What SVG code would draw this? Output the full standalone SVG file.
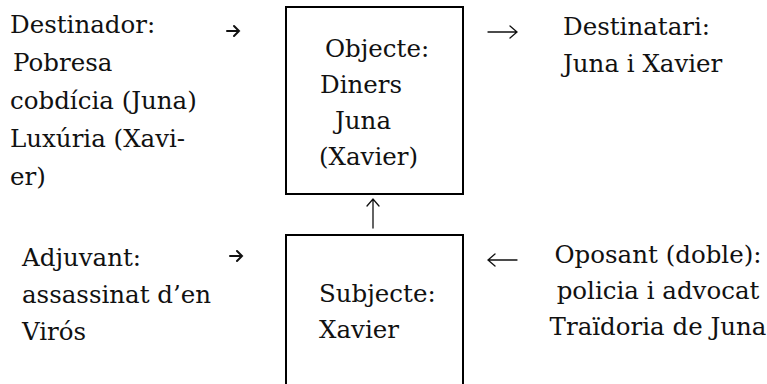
<svg xmlns="http://www.w3.org/2000/svg" width="767" height="384" viewBox="0 0 767 384">
<style>
.t{font-family:'DejaVu Serif','Liberation Serif',serif;font-size:24.5px;fill:#111}
.box{fill:none;stroke:#000;stroke-width:2}
.arr{fill:none;stroke:#111;stroke-width:1.3;stroke-linecap:round;stroke-linejoin:miter}
.sarr{fill:none;stroke:#111;stroke-width:2;stroke-linecap:round}
.mid{text-anchor:middle}
</style>
<rect width="767" height="384" fill="#fff"/>
<g id="destinador" class="t">
<text x="10" y="33">Destinador:</text>
<text x="13" y="71">Pobresa</text>
<text x="10" y="109">cobdícia (Juna)</text>
<text x="10" y="147">Luxúria (Xavi-</text>
<text x="10" y="185">er)</text>
</g>
<g id="objecte" class="t">
<rect class="box" x="286" y="7" width="177" height="187"/>
<text x="325" y="57">Objecte:</text>
<text x="320" y="93">Diners</text>
<text x="335" y="129">Juna</text>
<text x="319" y="165">(Xavier)</text>
</g>
<g id="destinatari" class="t">
<text x="563" y="35">Destinatari:</text>
<text x="563" y="72">Juna i Xavier</text>
</g>
<g id="adjuvant" class="t">
<text x="22" y="266">Adjuvant:</text>
<text x="22" y="303">assassinat d’en</text>
<text x="22" y="340">Virós</text>
</g>
<g id="subjecte" class="t">
<path class="box" d="M286 390 V235 H463 V390"/>
<text x="319" y="302">Subjecte:</text>
<text x="319" y="338">Xavier</text>
</g>
<g id="oposant" class="t">
<text class="mid" x="658" y="263">Oposant (doble):</text>
<text class="mid" x="658" y="299">policia i advocat</text>
<text class="mid" x="658" y="335">Traïdoria de Juna</text>
</g>
<g id="connectors">
<path class="sarr" d="M227 31 H239 M234 26 L239 31 L234 36"/>
<path class="arr" d="M488 32 H517 M510 26 L517 32 L510 38"/>
<path class="arr" d="M373 228 V199 M367 206 L373 199 L379 206"/>
<path class="sarr" d="M230 256 H242 M237 251 L242 256 L237 261"/>
<path class="arr" d="M517 260 H488 M495 254 L488 260 L495 266"/>
</g>
</svg>
